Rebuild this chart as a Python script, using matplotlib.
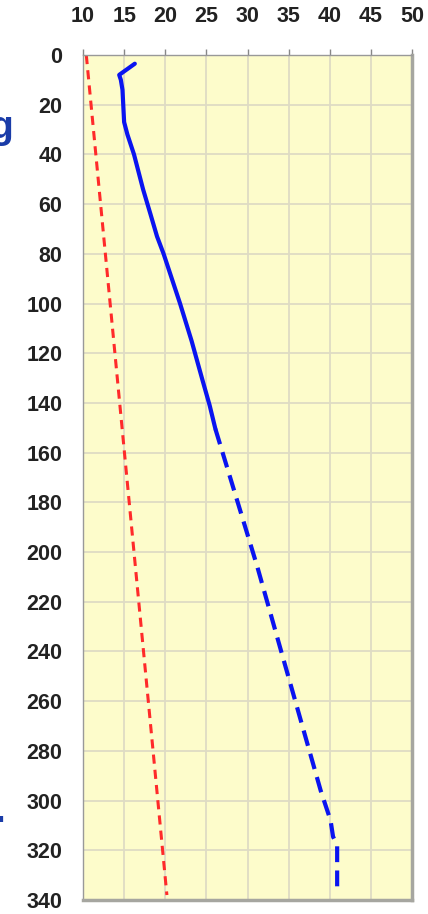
import numpy as np
import matplotlib.pyplot as plt

# Temperature (deg C) against depth (m)
red_temp = [10.4, 20.2]
red_depth = [0, 338]

blue_solid_temp = [16.3, 14.4, 14.6, 14.8, 15.0, 15.4, 15.8, 16.2, 17.3, 18.2, 19.0,
                   19.8, 21.8, 23.2, 24.5, 25.4, 26.1]
blue_solid_depth = [3.5, 8, 10, 14, 27, 32, 36, 40, 54, 64, 73, 80, 100, 115, 130.5,
                    141, 150.5]

blue_dash_temp = [26.1, 31.2, 34.1, 38.9, 40.1, 40.4, 40.9, 40.9]
blue_dash_depth = [150.5, 206, 240, 296, 308, 314.5, 318, 336]

x_ticks = np.arange(10, 51, 5)
y_ticks = np.arange(0, 341, 20)

plt.rcParams['font.family'] = ['Liberation Sans', 'DejaVu Sans']

fig = plt.figure(figsize=(4.28, 9.14), dpi=100)
ax = fig.add_axes([83 / 428, 1 - 900 / 914, (412 - 83) / 428, (900 - 55) / 914])
ax.set_facecolor('#fdfccb')

ax.plot(red_temp, red_depth, color='#ff2a2a', lw=2.2, dashes=(3, 2))
ax.plot(blue_solid_temp, blue_solid_depth, color='#0a14f0', lw=3.0,
        solid_capstyle='round', solid_joinstyle='round')
ax.plot(blue_dash_temp, blue_dash_depth, color='#0a14f0', lw=3.0, dashes=(3.8, 2.0))

ax.set_xlim(10, 50)
ax.set_ylim(340, 0)
ax.set_xticks(x_ticks)
ax.set_yticks(y_ticks)
ax.xaxis.tick_top()
ax.grid(True, color='#dedbc4', lw=1.3)
ax.set_axisbelow(True)

ax.tick_params(axis='x', top=True, bottom=False, length=4, width=1, color='#888888',
               pad=16, labelsize=15.5, labelcolor='#222222')
ax.tick_params(axis='y', left=False, length=0, pad=15, labelsize=15.5, labelcolor='#222222')
for lab in ax.get_xticklabels() + ax.get_yticklabels():
    lab.set_fontweight('bold')

for side in ['left', 'top']:
    ax.spines[side].set_color('#999999')
    ax.spines[side].set_linewidth(1.0)
for side in ['right', 'bottom']:
    ax.spines[side].set_color('#a6a6a0')
    ax.spines[side].set_linewidth(2.5)

# title text cut off at the left edge, as in the original slide
fig.text(13 / 428, 1 - 128 / 914, 'g', color='#1a3ca8', fontsize=28,
         fontweight='bold', ha='right', va='center')
fig.text(5 / 428, 1 - 822 / 914, '.', color='#1a3ca8', fontsize=28,
         fontweight='bold', ha='right', va='baseline')

fig.savefig('out.png', dpi=100, facecolor='white')
